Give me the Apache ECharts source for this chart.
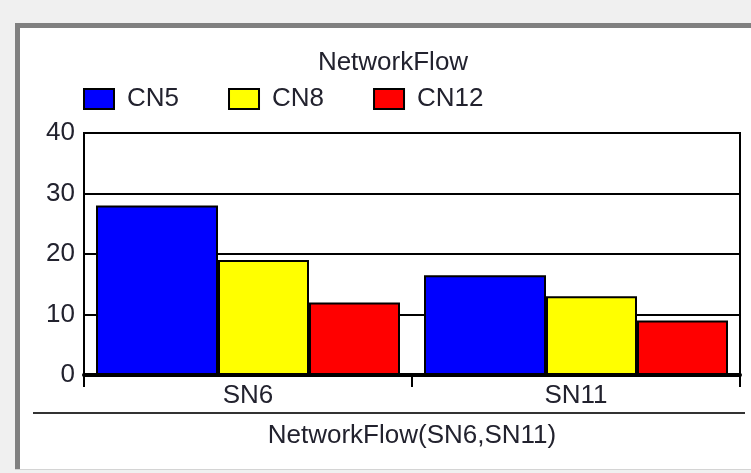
<!DOCTYPE html>
<html>
<head>
<meta charset="utf-8">
<script src="https://cdn.jsdelivr.net/npm/echarts@6/dist/echarts.min.js"></script>
<style>
  html, body { margin: 0; padding: 0; background: #f0f0f0; }
  #flow-chart { width: 751px; height: 473px; }
</style>
</head>
<body>
<div id="flow-chart"></div>
<script>
const categories = ['SN6', 'SN11']
const seriesNames = ['CN5', 'CN8', 'CN12']
const cn5Values = [28, 16.5]
const cn8Values = [19, 13]
const cn12Values = [12, 9]
const yTicks = [0, 10, 20, 30, 40]

const font = 'Liberation Sans, Arial, sans-serif'
const textColor = '#22222e'

function barSeries(name, data, color, width){
  return {
    name: name,
    type: 'bar',
    data: data,
    barWidth: width,
    barGap: '0%',
    itemStyle: {
      // 柱子黑边
      color: color,
      borderColor: '#000',
      borderWidth: 2
    }
  }
}

const options = {
  backgroundColor: '#f0f0f0',
  animation: false,
  textStyle: { fontFamily: font },
  graphic: [
    { type: 'rect', z: -10, shape: { x: 15, y: 23, width: 740, height: 447 }, style: { fill: '#fff' } },
    { type: 'line', z: -9, shape: { x1: 15, y1: 25.5, x2: 751, y2: 25.5 }, style: { stroke: '#808080', lineWidth: 5 } },
    { type: 'line', z: -9, shape: { x1: 17.5, y1: 23, x2: 17.5, y2: 470 }, style: { stroke: '#808080', lineWidth: 5 } },
    { type: 'line', z: -9, shape: { x1: 15, y1: 469.5, x2: 751, y2: 469.5 }, style: { stroke: '#d4d4d4', lineWidth: 1 } },
    { type: 'line', z: -9, shape: { x1: 33, y1: 413, x2: 745, y2: 413 }, style: { stroke: '#333', lineWidth: 2 } }
  ],
  title: {
    text: 'NetworkFlow',
    left: 388,
    top: 45,
    textAlign: 'center',
    textStyle: { fontFamily: font, fontSize: 26, fontWeight: 'normal', color: textColor }
  },
  legend: {
    data: seriesNames,
    left: 78,
    top: 81,
    itemWidth: 30,
    itemHeight: 20,
    itemGap: 49,
    icon: 'rect',
    itemStyle: { borderColor: '#000', borderWidth: 2 },
    textStyle: { fontFamily: font, fontSize: 26, color: textColor, padding: [0, 0, 0, 8] }
  },
  grid: {
    left: 84,
    top: 133,
    right: 11,
    bottom: 98,
    show: true,
    borderColor: '#000',
    borderWidth: 2,
    containLabel: false
  },
  xAxis: {
    type: 'category',
    data: categories,
    name: 'NetworkFlow(SN6,SN11)',
    nameLocation: 'middle',
    nameGap: 48,
    nameTextStyle: { fontFamily: font, fontSize: 26, color: textColor },
    axisLine: { show: true, lineStyle: { color: '#000', width: 4 } },
    axisTick: { show: true, length: 12, lineStyle: { color: '#000', width: 2 } },
    axisLabel: { margin: 8, fontFamily: font, fontSize: 26, color: textColor }
  },
  yAxis: {
    type: 'value',
    min: yTicks[0],
    max: yTicks[yTicks.length - 1],
    interval: 10,
    axisLine: { show: true, lineStyle: { color: '#000', width: 2 } },
    axisTick: { show: false },
    splitLine: { show: true, lineStyle: { color: '#000', width: 2 } },
    axisLabel: { margin: 9, fontFamily: font, fontSize: 26, color: textColor }
  },
  series: [
    barSeries(seriesNames[0], cn5Values, '#0000ff', 122),
    barSeries(seriesNames[1], cn8Values, '#ffff00', 91),
    barSeries(seriesNames[2], cn12Values, '#ff0000', 91)
  ]
}

const myChart = echarts.init(document.getElementById('flow-chart'))
myChart.setOption(options)
</script>
</body>
</html>
